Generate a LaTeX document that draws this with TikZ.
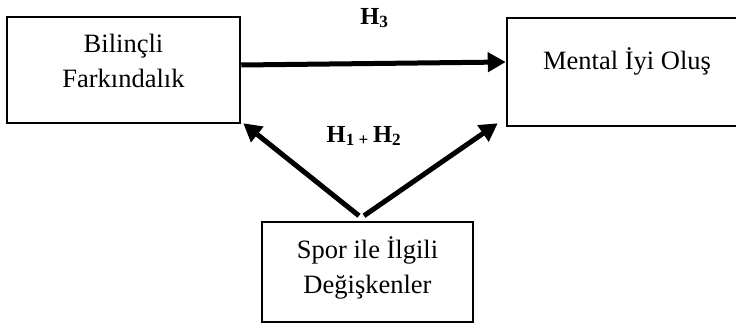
\documentclass[tikz,border=0pt]{standalone}
\usepackage{fontspec}
\setmainfont{Liberation Serif}
\usetikzlibrary{arrows.meta}
\tikzset{
  varbox/.style={draw, line width=2.5pt, align=center, inner xsep=0pt, inner ysep=0pt,
    font=\fontsize{26.5}{35}\selectfont},
  hyparrow/.style={line width=5pt, -{Triangle[length=18pt,width=19pt]}},
  hyplabel/.style={anchor=base, font=\fontsize{24.5}{28}\selectfont\bfseries}
}
\begin{document}
\begin{tikzpicture}[x=1pt,y=1pt]
  \useasboundingbox (0,0) rectangle (736,-324);
  \clip (0,0) rectangle (736,-324);
  % three boxes
  \node[varbox, minimum width=233pt, text height=70pt, text depth=36pt] (bf) at (123.5,-70) {Bilinçli\\Farkındalık};
  \node[varbox, minimum width=240pt, text height=51pt, text depth=57pt] (mio) at (627,-72) {Mental İyi Oluş};
  \node[varbox, minimum width=211pt, text height=71pt, text depth=29pt] (sil) at (367.5,-272) {Spor ile İlgili\\Değişkenler};
  % three arrows
  \draw[hyparrow] ([yshift=5pt]bf.east) -- ([yshift=10pt]mio.west);
  \draw[hyparrow] ([xshift=-8.5pt,yshift=5pt]sil.north) -- ([xshift=2pt,yshift=1pt]bf.south east);
  \draw[hyparrow] ([xshift=-3.5pt,yshift=5pt]sil.north) -- ([xshift=-8pt,yshift=4pt]mio.south west);
  % text
  \node[hyplabel] (h3) at (374.5,-24) {H\textsubscript{3}};
  \node[hyplabel] (h12) at (364,-142) {H\textsubscript{1 + }H\textsubscript{2}};
\end{tikzpicture}
\end{document}
